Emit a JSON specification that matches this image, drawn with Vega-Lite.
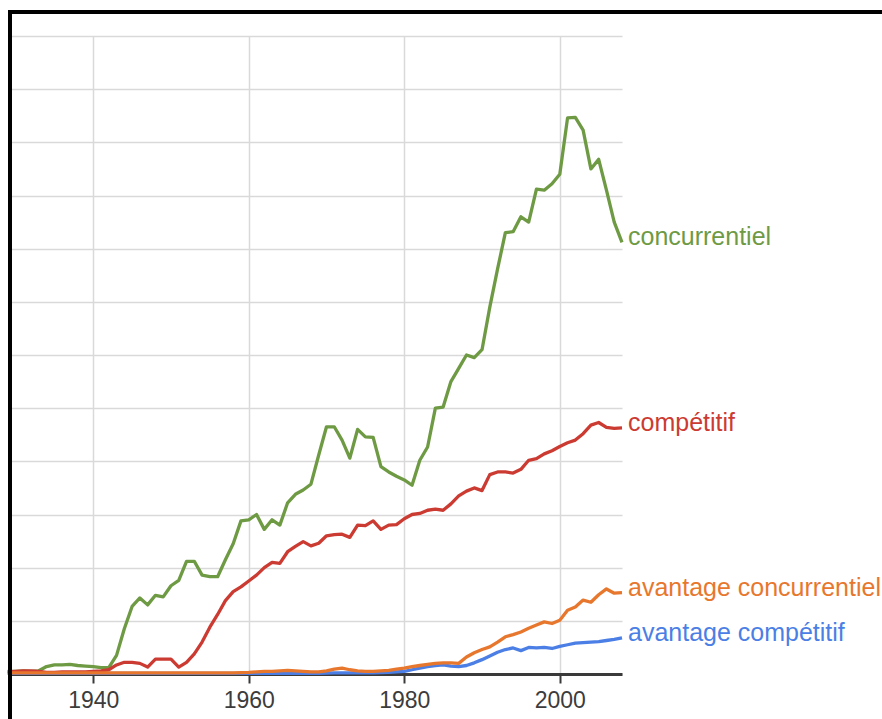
{
"$schema": "https://vega.github.io/schema/vega-lite/v6.json",
"width": 612, "height": 638,
"autosize": {"type": "none"},
"padding": {"left": 10, "top": 36, "right": 260, "bottom": 45},
"background": "white",
"config": {"view": {"stroke": null}, "font": "Liberation Sans"},
"datasets": {"ngram": [
{"year":1929,"term":"avantage compétitif","value":0.01},{"year":1930,"term":"avantage compétitif","value":0.01},{"year":1931,"term":"avantage compétitif","value":0.01},{"year":1932,"term":"avantage compétitif","value":0.01},{"year":1933,"term":"avantage compétitif","value":0.01},{"year":1934,"term":"avantage compétitif","value":0.01},{"year":1935,"term":"avantage compétitif","value":0.01},{"year":1936,"term":"avantage compétitif","value":0.01},{"year":1937,"term":"avantage compétitif","value":0.01},{"year":1938,"term":"avantage compétitif","value":0.01},{"year":1939,"term":"avantage compétitif","value":0.01},{"year":1940,"term":"avantage compétitif","value":0.01},{"year":1941,"term":"avantage compétitif","value":0.01},{"year":1942,"term":"avantage compétitif","value":0.01},{"year":1943,"term":"avantage compétitif","value":0.01},{"year":1944,"term":"avantage compétitif","value":0.01},{"year":1945,"term":"avantage compétitif","value":0.01},{"year":1946,"term":"avantage compétitif","value":0.01},{"year":1947,"term":"avantage compétitif","value":0.01},{"year":1948,"term":"avantage compétitif","value":0.01},{"year":1949,"term":"avantage compétitif","value":0.01},{"year":1950,"term":"avantage compétitif","value":0.01},{"year":1951,"term":"avantage compétitif","value":0.01},{"year":1952,"term":"avantage compétitif","value":0.01},{"year":1953,"term":"avantage compétitif","value":0.01},{"year":1954,"term":"avantage compétitif","value":0.01},{"year":1955,"term":"avantage compétitif","value":0.01},{"year":1956,"term":"avantage compétitif","value":0.01},{"year":1957,"term":"avantage compétitif","value":0.01},{"year":1958,"term":"avantage compétitif","value":0.01},{"year":1959,"term":"avantage compétitif","value":0.01},{"year":1960,"term":"avantage compétitif","value":0.01},{"year":1961,"term":"avantage compétitif","value":0.01},{"year":1962,"term":"avantage compétitif","value":0.01},{"year":1963,"term":"avantage compétitif","value":0.01},{"year":1964,"term":"avantage compétitif","value":0.01},{"year":1965,"term":"avantage compétitif","value":0.01},{"year":1966,"term":"avantage compétitif","value":0.01},{"year":1967,"term":"avantage compétitif","value":0.01},{"year":1968,"term":"avantage compétitif","value":0.01},{"year":1969,"term":"avantage compétitif","value":0.01},{"year":1970,"term":"avantage compétitif","value":0.015},{"year":1971,"term":"avantage compétitif","value":0.02},{"year":1972,"term":"avantage compétitif","value":0.02},{"year":1973,"term":"avantage compétitif","value":0.02},{"year":1974,"term":"avantage compétitif","value":0.02},{"year":1975,"term":"avantage compétitif","value":0.02},{"year":1976,"term":"avantage compétitif","value":0.02},{"year":1977,"term":"avantage compétitif","value":0.025},{"year":1978,"term":"avantage compétitif","value":0.03},{"year":1979,"term":"avantage compétitif","value":0.04},{"year":1980,"term":"avantage compétitif","value":0.05},{"year":1981,"term":"avantage compétitif","value":0.08},{"year":1982,"term":"avantage compétitif","value":0.11},{"year":1983,"term":"avantage compétitif","value":0.14},{"year":1984,"term":"avantage compétitif","value":0.16},{"year":1985,"term":"avantage compétitif","value":0.17},{"year":1986,"term":"avantage compétitif","value":0.15},{"year":1987,"term":"avantage compétitif","value":0.14},{"year":1988,"term":"avantage compétitif","value":0.16},{"year":1989,"term":"avantage compétitif","value":0.21},{"year":1990,"term":"avantage compétitif","value":0.27},{"year":1991,"term":"avantage compétitif","value":0.34},{"year":1992,"term":"avantage compétitif","value":0.41},{"year":1993,"term":"avantage compétitif","value":0.46},{"year":1994,"term":"avantage compétitif","value":0.49},{"year":1995,"term":"avantage compétitif","value":0.44},{"year":1996,"term":"avantage compétitif","value":0.5},{"year":1997,"term":"avantage compétitif","value":0.49},{"year":1998,"term":"avantage compétitif","value":0.5},{"year":1999,"term":"avantage compétitif","value":0.48},{"year":2000,"term":"avantage compétitif","value":0.52},{"year":2001,"term":"avantage compétitif","value":0.55},{"year":2002,"term":"avantage compétitif","value":0.58},{"year":2003,"term":"avantage compétitif","value":0.59},{"year":2004,"term":"avantage compétitif","value":0.6},{"year":2005,"term":"avantage compétitif","value":0.61},{"year":2006,"term":"avantage compétitif","value":0.63},{"year":2007,"term":"avantage compétitif","value":0.65},{"year":2008,"term":"avantage compétitif","value":0.68},
{"year":1929,"term":"concurrentiel","value":0.05},{"year":1930,"term":"concurrentiel","value":0.05},{"year":1931,"term":"concurrentiel","value":0.06},{"year":1932,"term":"concurrentiel","value":0.05},{"year":1933,"term":"concurrentiel","value":0.06},{"year":1934,"term":"concurrentiel","value":0.14},{"year":1935,"term":"concurrentiel","value":0.17},{"year":1936,"term":"concurrentiel","value":0.17},{"year":1937,"term":"concurrentiel","value":0.18},{"year":1938,"term":"concurrentiel","value":0.16},{"year":1939,"term":"concurrentiel","value":0.15},{"year":1940,"term":"concurrentiel","value":0.14},{"year":1941,"term":"concurrentiel","value":0.12},{"year":1942,"term":"concurrentiel","value":0.12},{"year":1943,"term":"concurrentiel","value":0.35},{"year":1944,"term":"concurrentiel","value":0.85},{"year":1945,"term":"concurrentiel","value":1.27},{"year":1946,"term":"concurrentiel","value":1.43},{"year":1947,"term":"concurrentiel","value":1.3},{"year":1948,"term":"concurrentiel","value":1.48},{"year":1949,"term":"concurrentiel","value":1.45},{"year":1950,"term":"concurrentiel","value":1.66},{"year":1951,"term":"concurrentiel","value":1.76},{"year":1952,"term":"concurrentiel","value":2.12},{"year":1953,"term":"concurrentiel","value":2.12},{"year":1954,"term":"concurrentiel","value":1.86},{"year":1955,"term":"concurrentiel","value":1.83},{"year":1956,"term":"concurrentiel","value":1.83},{"year":1957,"term":"concurrentiel","value":2.15},{"year":1958,"term":"concurrentiel","value":2.45},{"year":1959,"term":"concurrentiel","value":2.88},{"year":1960,"term":"concurrentiel","value":2.9},{"year":1961,"term":"concurrentiel","value":3.0},{"year":1962,"term":"concurrentiel","value":2.72},{"year":1963,"term":"concurrentiel","value":2.9},{"year":1964,"term":"concurrentiel","value":2.8},{"year":1965,"term":"concurrentiel","value":3.22},{"year":1966,"term":"concurrentiel","value":3.38},{"year":1967,"term":"concurrentiel","value":3.46},{"year":1968,"term":"concurrentiel","value":3.57},{"year":1969,"term":"concurrentiel","value":4.12},{"year":1970,"term":"concurrentiel","value":4.65},{"year":1971,"term":"concurrentiel","value":4.65},{"year":1972,"term":"concurrentiel","value":4.4},{"year":1973,"term":"concurrentiel","value":4.06},{"year":1974,"term":"concurrentiel","value":4.6},{"year":1975,"term":"concurrentiel","value":4.46},{"year":1976,"term":"concurrentiel","value":4.45},{"year":1977,"term":"concurrentiel","value":3.9},{"year":1978,"term":"concurrentiel","value":3.8},{"year":1979,"term":"concurrentiel","value":3.72},{"year":1980,"term":"concurrentiel","value":3.65},{"year":1981,"term":"concurrentiel","value":3.55},{"year":1982,"term":"concurrentiel","value":4.02},{"year":1983,"term":"concurrentiel","value":4.27},{"year":1984,"term":"concurrentiel","value":5.0},{"year":1985,"term":"concurrentiel","value":5.02},{"year":1986,"term":"concurrentiel","value":5.5},{"year":1987,"term":"concurrentiel","value":5.75},{"year":1988,"term":"concurrentiel","value":6.0},{"year":1989,"term":"concurrentiel","value":5.95},{"year":1990,"term":"concurrentiel","value":6.1},{"year":1991,"term":"concurrentiel","value":6.9},{"year":1992,"term":"concurrentiel","value":7.62},{"year":1993,"term":"concurrentiel","value":8.3},{"year":1994,"term":"concurrentiel","value":8.32},{"year":1995,"term":"concurrentiel","value":8.6},{"year":1996,"term":"concurrentiel","value":8.5},{"year":1997,"term":"concurrentiel","value":9.12},{"year":1998,"term":"concurrentiel","value":9.1},{"year":1999,"term":"concurrentiel","value":9.22},{"year":2000,"term":"concurrentiel","value":9.4},{"year":2001,"term":"concurrentiel","value":10.46},{"year":2002,"term":"concurrentiel","value":10.47},{"year":2003,"term":"concurrentiel","value":10.23},{"year":2004,"term":"concurrentiel","value":9.5},{"year":2005,"term":"concurrentiel","value":9.68},{"year":2006,"term":"concurrentiel","value":9.1},{"year":2007,"term":"concurrentiel","value":8.5},{"year":2008,"term":"concurrentiel","value":8.12},
{"year":1929,"term":"compétitif","value":0.04},{"year":1930,"term":"compétitif","value":0.05},{"year":1931,"term":"compétitif","value":0.06},{"year":1932,"term":"compétitif","value":0.06},{"year":1933,"term":"compétitif","value":0.05},{"year":1934,"term":"compétitif","value":0.03},{"year":1935,"term":"compétitif","value":0.03},{"year":1936,"term":"compétitif","value":0.04},{"year":1937,"term":"compétitif","value":0.04},{"year":1938,"term":"compétitif","value":0.04},{"year":1939,"term":"compétitif","value":0.04},{"year":1940,"term":"compétitif","value":0.05},{"year":1941,"term":"compétitif","value":0.06},{"year":1942,"term":"compétitif","value":0.08},{"year":1943,"term":"compétitif","value":0.17},{"year":1944,"term":"compétitif","value":0.22},{"year":1945,"term":"compétitif","value":0.22},{"year":1946,"term":"compétitif","value":0.2},{"year":1947,"term":"compétitif","value":0.13},{"year":1948,"term":"compétitif","value":0.28},{"year":1949,"term":"compétitif","value":0.28},{"year":1950,"term":"compétitif","value":0.28},{"year":1951,"term":"compétitif","value":0.13},{"year":1952,"term":"compétitif","value":0.22},{"year":1953,"term":"compétitif","value":0.38},{"year":1954,"term":"compétitif","value":0.6},{"year":1955,"term":"compétitif","value":0.88},{"year":1956,"term":"compétitif","value":1.12},{"year":1957,"term":"compétitif","value":1.38},{"year":1958,"term":"compétitif","value":1.55},{"year":1959,"term":"compétitif","value":1.64},{"year":1960,"term":"compétitif","value":1.75},{"year":1961,"term":"compétitif","value":1.86},{"year":1962,"term":"compétitif","value":2.0},{"year":1963,"term":"compétitif","value":2.1},{"year":1964,"term":"compétitif","value":2.08},{"year":1965,"term":"compétitif","value":2.3},{"year":1966,"term":"compétitif","value":2.4},{"year":1967,"term":"compétitif","value":2.49},{"year":1968,"term":"compétitif","value":2.41},{"year":1969,"term":"compétitif","value":2.46},{"year":1970,"term":"compétitif","value":2.6},{"year":1971,"term":"compétitif","value":2.62},{"year":1972,"term":"compétitif","value":2.63},{"year":1973,"term":"compétitif","value":2.57},{"year":1974,"term":"compétitif","value":2.8},{"year":1975,"term":"compétitif","value":2.79},{"year":1976,"term":"compétitif","value":2.88},{"year":1977,"term":"compétitif","value":2.72},{"year":1978,"term":"compétitif","value":2.8},{"year":1979,"term":"compétitif","value":2.81},{"year":1980,"term":"compétitif","value":2.92},{"year":1981,"term":"compétitif","value":3.0},{"year":1982,"term":"compétitif","value":3.02},{"year":1983,"term":"compétitif","value":3.08},{"year":1984,"term":"compétitif","value":3.1},{"year":1985,"term":"compétitif","value":3.08},{"year":1986,"term":"compétitif","value":3.2},{"year":1987,"term":"compétitif","value":3.35},{"year":1988,"term":"compétitif","value":3.44},{"year":1989,"term":"compétitif","value":3.5},{"year":1990,"term":"compétitif","value":3.45},{"year":1991,"term":"compétitif","value":3.75},{"year":1992,"term":"compétitif","value":3.8},{"year":1993,"term":"compétitif","value":3.8},{"year":1994,"term":"compétitif","value":3.78},{"year":1995,"term":"compétitif","value":3.85},{"year":1996,"term":"compétitif","value":4.02},{"year":1997,"term":"compétitif","value":4.05},{"year":1998,"term":"compétitif","value":4.14},{"year":1999,"term":"compétitif","value":4.2},{"year":2000,"term":"compétitif","value":4.28},{"year":2001,"term":"compétitif","value":4.35},{"year":2002,"term":"compétitif","value":4.4},{"year":2003,"term":"compétitif","value":4.52},{"year":2004,"term":"compétitif","value":4.68},{"year":2005,"term":"compétitif","value":4.73},{"year":2006,"term":"compétitif","value":4.64},{"year":2007,"term":"compétitif","value":4.62},{"year":2008,"term":"compétitif","value":4.63},
{"year":1929,"term":"avantage concurrentiel","value":0.02},{"year":1930,"term":"avantage concurrentiel","value":0.02},{"year":1931,"term":"avantage concurrentiel","value":0.02},{"year":1932,"term":"avantage concurrentiel","value":0.02},{"year":1933,"term":"avantage concurrentiel","value":0.02},{"year":1934,"term":"avantage concurrentiel","value":0.02},{"year":1935,"term":"avantage concurrentiel","value":0.02},{"year":1936,"term":"avantage concurrentiel","value":0.02},{"year":1937,"term":"avantage concurrentiel","value":0.02},{"year":1938,"term":"avantage concurrentiel","value":0.02},{"year":1939,"term":"avantage concurrentiel","value":0.02},{"year":1940,"term":"avantage concurrentiel","value":0.02},{"year":1941,"term":"avantage concurrentiel","value":0.02},{"year":1942,"term":"avantage concurrentiel","value":0.02},{"year":1943,"term":"avantage concurrentiel","value":0.02},{"year":1944,"term":"avantage concurrentiel","value":0.02},{"year":1945,"term":"avantage concurrentiel","value":0.02},{"year":1946,"term":"avantage concurrentiel","value":0.02},{"year":1947,"term":"avantage concurrentiel","value":0.02},{"year":1948,"term":"avantage concurrentiel","value":0.02},{"year":1949,"term":"avantage concurrentiel","value":0.02},{"year":1950,"term":"avantage concurrentiel","value":0.02},{"year":1951,"term":"avantage concurrentiel","value":0.02},{"year":1952,"term":"avantage concurrentiel","value":0.02},{"year":1953,"term":"avantage concurrentiel","value":0.02},{"year":1954,"term":"avantage concurrentiel","value":0.02},{"year":1955,"term":"avantage concurrentiel","value":0.02},{"year":1956,"term":"avantage concurrentiel","value":0.02},{"year":1957,"term":"avantage concurrentiel","value":0.02},{"year":1958,"term":"avantage concurrentiel","value":0.02},{"year":1959,"term":"avantage concurrentiel","value":0.025},{"year":1960,"term":"avantage concurrentiel","value":0.03},{"year":1961,"term":"avantage concurrentiel","value":0.04},{"year":1962,"term":"avantage concurrentiel","value":0.05},{"year":1963,"term":"avantage concurrentiel","value":0.05},{"year":1964,"term":"avantage concurrentiel","value":0.06},{"year":1965,"term":"avantage concurrentiel","value":0.07},{"year":1966,"term":"avantage concurrentiel","value":0.06},{"year":1967,"term":"avantage concurrentiel","value":0.05},{"year":1968,"term":"avantage concurrentiel","value":0.04},{"year":1969,"term":"avantage concurrentiel","value":0.04},{"year":1970,"term":"avantage concurrentiel","value":0.06},{"year":1971,"term":"avantage concurrentiel","value":0.09},{"year":1972,"term":"avantage concurrentiel","value":0.11},{"year":1973,"term":"avantage concurrentiel","value":0.08},{"year":1974,"term":"avantage concurrentiel","value":0.06},{"year":1975,"term":"avantage concurrentiel","value":0.05},{"year":1976,"term":"avantage concurrentiel","value":0.05},{"year":1977,"term":"avantage concurrentiel","value":0.06},{"year":1978,"term":"avantage concurrentiel","value":0.07},{"year":1979,"term":"avantage concurrentiel","value":0.09},{"year":1980,"term":"avantage concurrentiel","value":0.11},{"year":1981,"term":"avantage concurrentiel","value":0.14},{"year":1982,"term":"avantage concurrentiel","value":0.16},{"year":1983,"term":"avantage concurrentiel","value":0.18},{"year":1984,"term":"avantage concurrentiel","value":0.2},{"year":1985,"term":"avantage concurrentiel","value":0.21},{"year":1986,"term":"avantage concurrentiel","value":0.21},{"year":1987,"term":"avantage concurrentiel","value":0.2},{"year":1988,"term":"avantage concurrentiel","value":0.32},{"year":1989,"term":"avantage concurrentiel","value":0.4},{"year":1990,"term":"avantage concurrentiel","value":0.46},{"year":1991,"term":"avantage concurrentiel","value":0.51},{"year":1992,"term":"avantage concurrentiel","value":0.6},{"year":1993,"term":"avantage concurrentiel","value":0.7},{"year":1994,"term":"avantage concurrentiel","value":0.74},{"year":1995,"term":"avantage concurrentiel","value":0.79},{"year":1996,"term":"avantage concurrentiel","value":0.86},{"year":1997,"term":"avantage concurrentiel","value":0.92},{"year":1998,"term":"avantage concurrentiel","value":0.98},{"year":1999,"term":"avantage concurrentiel","value":0.95},{"year":2000,"term":"avantage concurrentiel","value":1.01},{"year":2001,"term":"avantage concurrentiel","value":1.2},{"year":2002,"term":"avantage concurrentiel","value":1.26},{"year":2003,"term":"avantage concurrentiel","value":1.39},{"year":2004,"term":"avantage concurrentiel","value":1.35},{"year":2005,"term":"avantage concurrentiel","value":1.49},{"year":2006,"term":"avantage concurrentiel","value":1.6},{"year":2007,"term":"avantage concurrentiel","value":1.52},{"year":2008,"term":"avantage concurrentiel","value":1.53}
]},
"data": {"name": "ngram"},
"encoding": {
  "x": {"field": "year", "type": "quantitative",
        "scale": {"domain": [1929.3, 2008], "nice": false, "zero": false},
        "axis": {"values": [1940, 1960, 1980, 2000], "format": "d", "title": null,
                 "grid": true, "gridColor": "#d9d9d9", "gridWidth": 1.5,
                 "domainColor": "#3a3a3a", "domainWidth": 3,
                 "tickColor": "#3a3a3a", "tickWidth": 2, "tickSize": 9,
                 "labelFontSize": 23, "labelColor": "#3c3c3c", "labelBaseline": "alphabetic",
                 "labelPadding": 24, "labelFont": "Liberation Sans"}},
  "y": {"field": "value", "type": "quantitative",
        "scale": {"domain": [0, 12], "nice": false},
        "axis": {"values": [0,1,2,3,4,5,6,7,8,9,10,11,12], "title": null, "labels": false,
                 "ticks": false, "domain": false, "grid": true, "gridColor": "#d9d9d9", "gridWidth": 1.5}},
  "color": {"field": "term", "type": "nominal",
            "scale": {"domain": ["concurrentiel", "compétitif", "avantage concurrentiel", "avantage compétitif"],
                      "range": ["#6e9a44", "#cc3b32", "#e8772e", "#4b7fe5"]},
            "legend": null}
},
"layer": [
  {"mark": {"type": "line", "strokeWidth": 3.3, "strokeJoin": "round"}},
  {"transform": [{"filter": "datum.year == 2008"}],
   "mark": {"type": "text", "align": "left", "baseline": "alphabetic", "dx": 6, "dy": 3, "fontSize": 25, "font": "Liberation Sans"},
   "encoding": {"text": {"field": "term"}}},
  {"mark": {"type": "rect", "fill": "transparent", "stroke": "black", "strokeWidth": 3},
   "encoding": {"x": {"datum": 1929.3}, "x2": {"datum": 2060}, "y": {"datum": 12.45}, "y2": {"datum": -2}, "color": {"value": "transparent"}}}
]
}
